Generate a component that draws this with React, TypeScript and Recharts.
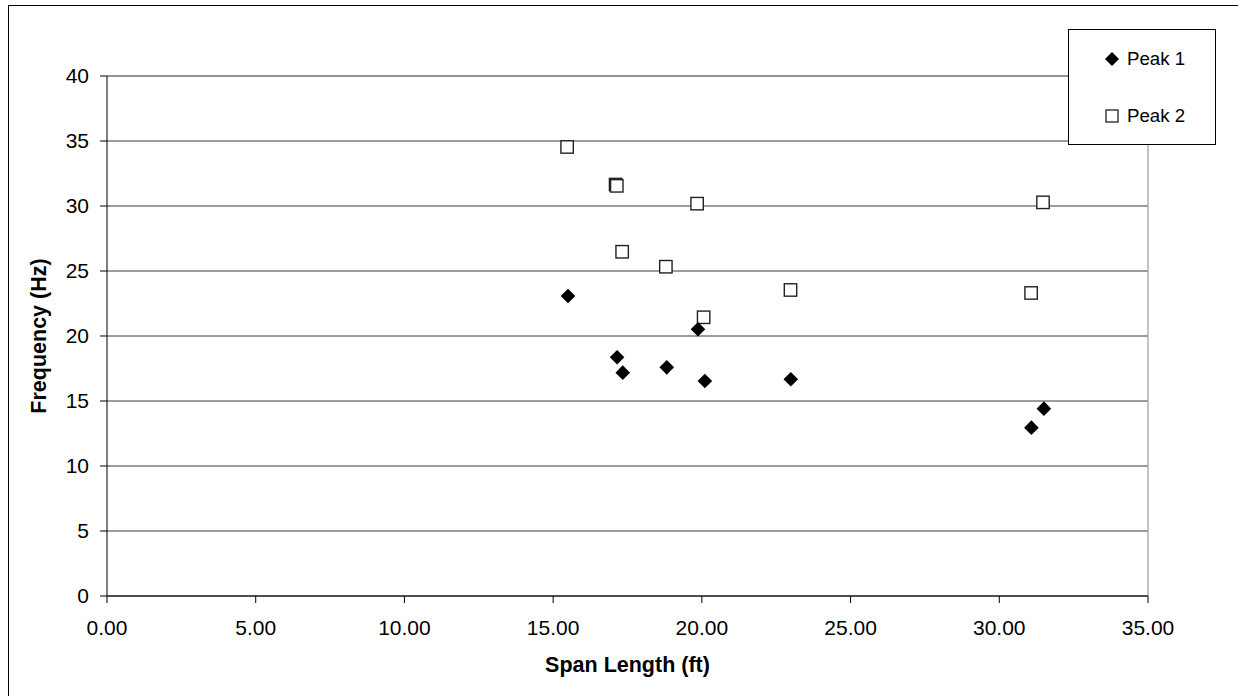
import React from "react";
import {
  ScatterChart,
  Scatter,
  XAxis,
  YAxis,
  CartesianGrid,
  ReferenceLine,
  Legend,
} from "recharts";

const peak1Span = [15.5, 17.15, 17.34, 18.82, 19.87, 20.1, 22.99, 31.08, 31.5];
const peak1Freq = [23.08, 18.36, 17.18, 17.59, 20.52, 16.54, 16.67, 12.95, 14.41];
const peak2Span = [15.47, 17.1, 17.14, 17.32, 18.79, 19.84, 20.06, 22.98, 31.07, 31.47];
const peak2Freq = [34.54, 31.65, 31.55, 26.48, 25.33, 30.18, 21.44, 23.54, 23.31, 30.28];
const xTicks = [0, 5, 10, 15, 20, 25, 30, 35];
const yTicks = [0, 5, 10, 15, 20, 25, 30, 35, 40];
const seriesNames = ["Peak 1", "Peak 2"];

const peak1Data = peak1Span.map((x, i) => ({ x, y: peak1Freq[i] }));
const peak2Data = peak2Span.map((x, i) => ({ x, y: peak2Freq[i] }));

const FONT = "'Liberation Sans', Arial, sans-serif";

const Diamond = (props: any) => {
  const { cx, cy } = props;
  const r = 7.3;
  return (
    <polygon
      points={`${cx},${cy - r} ${cx + r},${cy} ${cx},${cy + r} ${cx - r},${cy}`}
      fill="#000"
    />
  );
};

const Square = (props: any) => {
  const { cx, cy } = props;
  const h = 6.2;
  return (
    <rect
      x={cx - h}
      y={cy - h}
      width={2 * h}
      height={2 * h}
      fill="#fff"
      stroke="#222"
      strokeWidth={1.4}
    />
  );
};

const renderLegend = () => (
  <div
    style={{
      width: 148,
      height: 116,
      border: "1px solid #000",
      background: "#fff",
      boxSizing: "border-box",
      position: "relative",
      fontFamily: FONT,
      fontSize: 18.7,
      color: "#000",
    }}
  >
    {seriesNames.map((name, i) => (
      <div
        key={name}
        style={{
          position: "absolute",
          left: 35,
          top: i === 0 ? 18 : 75,
          height: 22,
          display: "flex",
          alignItems: "center",
          whiteSpace: "nowrap",
        }}
      >
        <svg width={16} height={16} style={{ marginRight: 7 }}>
          {i === 0 ? (
            <polygon points="8,1 15,8 8,15 1,8" fill="#000" />
          ) : (
            <rect x={2} y={2} width={12} height={12} fill="#fff" stroke="#222" strokeWidth={1.3} />
          )}
        </svg>
        <span>{name}</span>
      </div>
    ))}
  </div>
);

const XTitle = (props: any) => {
  const vb = props.viewBox || {};
  return (
    <text
      x={vb.x + vb.width / 2}
      y={vb.y + 75.5}
      textAnchor="middle"
      fontFamily={FONT}
      fontSize={21.5}
      fontWeight="bold"
      fill="#000"
    >
      Span Length (ft)
    </text>
  );
};

const YTitle = (props: any) => {
  const vb = props.viewBox || {};
  const x = 37;
  const y = vb.y + vb.height / 2;
  return (
    <text
      x={x}
      y={y}
      transform={`rotate(-90, ${x}, ${y})`}
      textAnchor="middle"
      fontFamily={FONT}
      fontSize={21.5}
      fontWeight="bold"
      fill="#000"
    >
      Frequency (Hz)
    </text>
  );
};

export default function App() {
  return (
    <div
      style={{
        position: "fixed",
        left: 0,
        top: 0,
        width: 1238,
        height: 696,
        overflow: "hidden",
        background: "#fff",
      }}
    >
      <div
        style={{
          position: "absolute",
          left: 8,
          top: 5,
          width: 1260,
          height: 720,
          border: "1px solid #000",
          boxSizing: "border-box",
          background: "#fff",
        }}
      >
        <ScatterChart
          width={1229}
          height={690}
          margin={{ top: 70, right: 90, bottom: 0, left: 0 }}
        >
          <CartesianGrid vertical={false} horizontal stroke="#3a3a3a" strokeWidth={1} />
          <XAxis
            type="number"
            dataKey="x"
            domain={[0, 35]}
            ticks={xTicks}
            height={100}
            tickSize={7}
            tickMargin={17}
            tickFormatter={(v: number) => v.toFixed(2)}
            axisLine={{ stroke: "#000" }}
            tickLine={{ stroke: "#000" }}
            tick={{ fill: "#000", fontSize: 21, fontFamily: FONT }}
            interval={0}
            label={XTitle}
          />
          <YAxis
            type="number"
            dataKey="y"
            domain={[0, 40]}
            ticks={yTicks}
            width={98}
            tickSize={7}
            tickMargin={11}
            axisLine={{ stroke: "#000" }}
            tickLine={{ stroke: "#000" }}
            tick={{ fill: "#000", fontSize: 21, fontFamily: FONT }}
            interval={0}
            label={YTitle}
          />
          <ReferenceLine y={40} stroke="#8c8c8c" strokeWidth={1.2} />
          <ReferenceLine x={35} stroke="#9a9a9a" strokeWidth={1.2} />
          <Scatter
            name={seriesNames[1]}
            data={peak2Data}
            shape={Square}
            isAnimationActive={false}
          />
          <Scatter
            name={seriesNames[0]}
            data={peak1Data}
            shape={Diamond}
            isAnimationActive={false}
          />
          <Legend
            layout="vertical"
            align="center"
            verticalAlign="middle"
            content={renderLegend}
            wrapperStyle={{ left: 1059, top: 23.3, width: 148, height: 116 }}
          />
        </ScatterChart>
      </div>
    </div>
  );
}
